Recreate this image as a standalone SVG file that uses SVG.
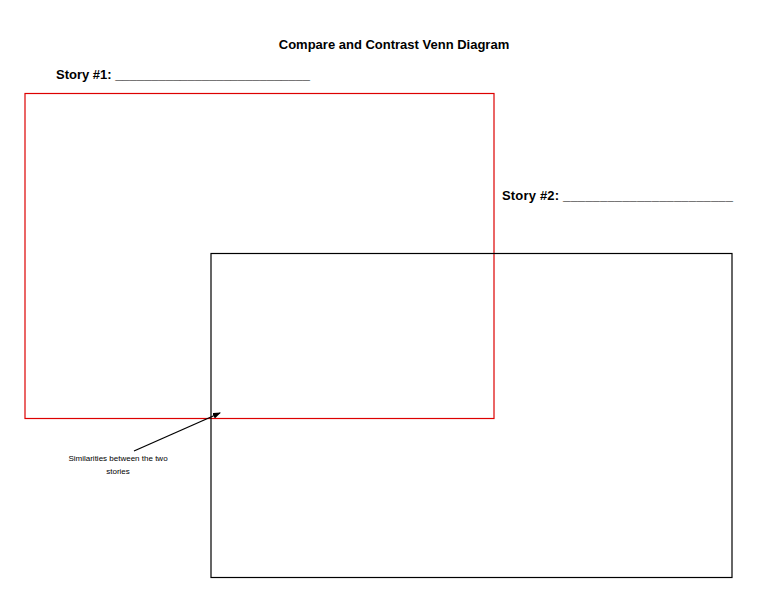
<svg xmlns="http://www.w3.org/2000/svg" width="768" height="594" viewBox="0 0 768 594">
<defs><marker id="ah" markerWidth="8" markerHeight="6" refX="7" refY="3" orient="auto" markerUnits="userSpaceOnUse"><path d="M0,0 L8,3 L0,6 Z" fill="#000"/></marker></defs>
<style>text{font-family:"Liberation Sans",Carlito,sans-serif;font-weight:bold;fill:#000}text.sm{font-weight:normal;font-size:8px}</style>
<rect width="768" height="594" fill="#fff"/>
<text x="394" y="49" font-size="13" text-anchor="middle">Compare and Contrast Venn Diagram</text>
<text x="56" y="79" font-size="13" textLength="254">Story #1: ___________________________</text>
<text x="502" y="200" font-size="13" textLength="231">Story #2: _______________________</text>
<g id="story1"><rect x="25" y="93.5" width="469" height="325" fill="none" stroke="#d00" stroke-width="1.2"/></g>
<g id="story2"><rect x="211" y="253.5" width="521" height="324" fill="none" stroke="#000" stroke-width="1.2"/></g>
<g id="connectors"><line x1="134" y1="451" x2="220" y2="413" stroke="#000" stroke-width="1.3" marker-end="url(#ah)"/></g>
<g id="label"><text class="sm" x="118" y="461" text-anchor="middle">Similarities between the two</text><text class="sm" x="118" y="474" text-anchor="middle">stories</text></g>
</svg>
